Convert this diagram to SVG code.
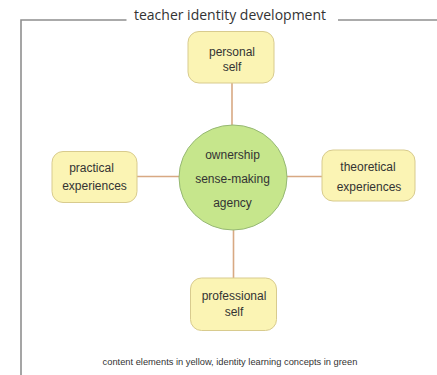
<svg xmlns="http://www.w3.org/2000/svg" width="437" height="375" viewBox="0 0 437 375">
<style>
.frame{fill:none;stroke:#8f8f8f;stroke-width:1.6}
.box{fill:#fbf4b4;stroke:#d8cb8e;stroke-width:1}
.hub{fill:#c6e68c;stroke:#96b874;stroke-width:1}
.conn{stroke:#d8a983;stroke-width:1.6;fill:none}
.lbl{font-family:"Liberation Sans",Arial,sans-serif;font-size:12px;fill:#333;text-anchor:middle}
.title{font-family:"Open Sans","Liberation Sans",sans-serif;font-size:14px;fill:#333;text-anchor:middle}
.cap{font-family:"Liberation Sans",Arial,sans-serif;font-size:9.3px;fill:#333;text-anchor:middle}
</style>
<rect width="437" height="375" fill="#ffffff"/>
<g id="frame">
<polyline class="frame" points="126.5,20 21,20 21,375"/>
<line class="frame" x1="338" y1="20" x2="437" y2="20"/>
<text class="title" x="230" y="19.5">teacher identity development</text>
</g>
<g id="connectors">
<line class="conn" x1="232" y1="83" x2="232" y2="125"/>
<line class="conn" x1="233.5" y1="230" x2="233.5" y2="278"/>
<line class="conn" x1="137" y1="176.5" x2="179" y2="176.5"/>
<line class="conn" x1="287" y1="176.5" x2="322" y2="176.5"/>
</g>
<g id="personal-self">
<rect class="box" x="188" y="31.5" width="86" height="51.5" rx="11"/>
<text class="lbl" x="232" y="55.5">personal</text>
<text class="lbl" x="232" y="71">self</text>
</g>
<g id="practical-experiences">
<rect class="box" x="52" y="151.5" width="85" height="51" rx="11"/>
<text class="lbl" x="91.5" y="171.5">practical</text>
<text class="lbl" x="94.5" y="190">experiences</text>
</g>
<g id="theoretical-experiences">
<rect class="box" x="322" y="150" width="93" height="51" rx="11"/>
<text class="lbl" x="368" y="170.5">theoretical</text>
<text class="lbl" x="369" y="191">experiences</text>
</g>
<g id="professional-self">
<rect class="box" x="190.5" y="278" width="86" height="52.5" rx="11"/>
<text class="lbl" x="234" y="300">professional</text>
<text class="lbl" x="234" y="315.5">self</text>
</g>
<g id="hub">
<ellipse class="hub" cx="233" cy="177.5" rx="54" ry="52.5"/>
<text class="lbl" x="232.5" y="158.5">ownership</text>
<text class="lbl" x="232.5" y="182.5">sense-making</text>
<text class="lbl" x="232.5" y="206.5">agency</text>
</g>
<g id="caption">
<text class="cap" x="230" y="364.5">content elements in yellow, identity learning concepts in green</text>
</g>
</svg>
